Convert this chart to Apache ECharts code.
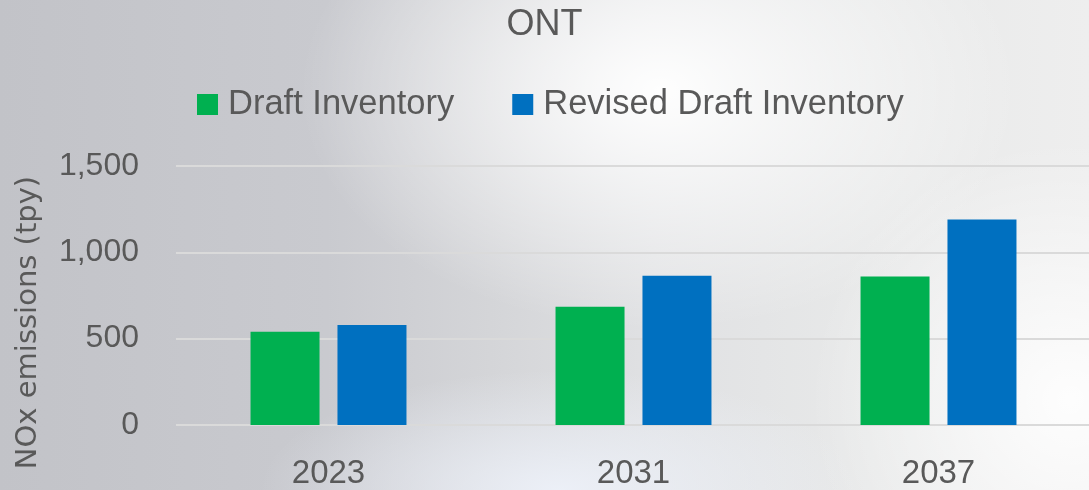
<!DOCTYPE html>
<html>
<head>
<meta charset="utf-8">
<script src="https://cdn.jsdelivr.net/npm/echarts@6/dist/echarts.min.js"></script>
<style>
html,body{margin:0;padding:0;}
body{width:1089px;height:490px;overflow:hidden;
background:
 radial-gradient(ellipse 360px 240px at 660px 90px, rgba(255,255,255,0.97), rgba(255,255,255,0) 100%),
 radial-gradient(ellipse 260px 260px at 1070px 400px, rgba(255,255,255,0.9), rgba(255,255,255,0) 100%),
 radial-gradient(ellipse 300px 120px at 560px 490px, rgba(238,242,250,0.9), rgba(238,242,250,0) 100%),
 linear-gradient(90deg, #c2c3c8 0%, #c9cacf 30%, #d4d5d8 45%, #e0e1e3 60%, #e8e9e9 80%, #eeeeee 100%);
}
#chart{width:1089px;height:490px;}
</style>
</head>
<body>
<div id="chart"></div>
<script>
const title = 'ONT';
const categories = ['2023', '2031', '2037'];
const seriesNames = ['Draft Inventory', 'Revised Draft Inventory'];
const draftValues = [540, 685, 860];
const revisedValues = [579, 864, 1190];
const yAxisName = 'NOx emissions (tpy)';

const chart = echarts.init(document.getElementById('chart'));
const font = '"Liberation Sans", Arial, sans-serif';
chart.setOption({
  backgroundColor: 'transparent',
  animation: false,
  title: {
    text: title, left: 'center', top: 2,
    textStyle: {fontFamily: font, fontSize: 36, fontWeight: 'normal', color: '#595959'}
  },
  legend: {
    data: seriesNames, top: 82, left: 192, itemWidth: 21, itemHeight: 21, itemGap: 58,
    icon: 'rect',
    textStyle: {fontFamily: font, fontSize: 34.5, color: '#595959', padding: [0,0,0,5]}
  },
  grid: {left: 176, right: -2, top: 166, bottom: 65, containLabel: false, outerBoundsMode: 'none'},
  xAxis: {
    type: 'category', data: categories,
    axisLine: {show: false}, axisTick: {show: false},
    axisLabel: {fontFamily: font, fontSize: 33, color: '#595959', margin: 32}
  },
  yAxis: {
    type: 'value', min: 0, max: 1500, interval: 500,
    name: yAxisName, nameLocation: 'middle', nameRotate: 90, nameGap: 133,
    nameTextStyle: {fontFamily: '"DejaVu Sans", sans-serif', fontSize: 29, color: '#595959', padding: [0, 54, 0, 0]},
    axisLine: {show: false}, axisTick: {show: false},
    splitLine: {lineStyle: {color: '#dadada', width: 2}},
    axisLabel: {fontFamily: font, fontSize: 32, color: '#595959', margin: 37,
      formatter: v => v.toLocaleString('en-US')}
  },
  series: [
    {name: seriesNames[0], type: 'bar', data: draftValues, itemStyle: {color: '#00b050'},
     barWidth: 69, barGap: '26%'},
    {name: seriesNames[1], type: 'bar', data: revisedValues, itemStyle: {color: '#0070c0'},
     barWidth: 69, barGap: '26%'}
  ]
});
</script>
</body>
</html>
